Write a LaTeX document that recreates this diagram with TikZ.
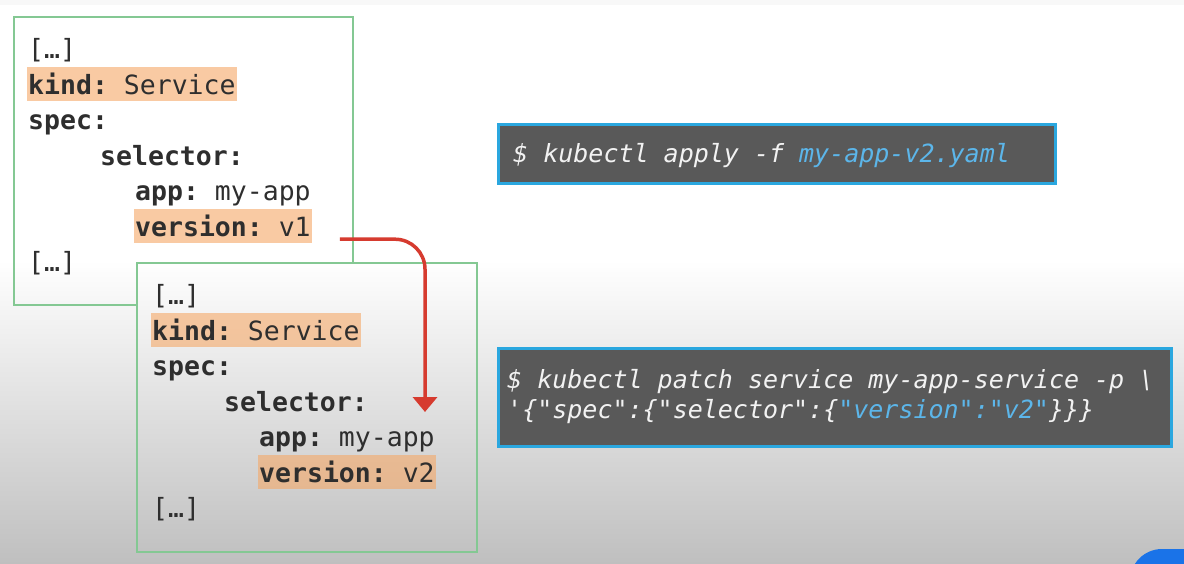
\documentclass[tikz,border=0pt]{standalone}
\usepackage{fontspec}
\setmonofont{DejaVu Sans Mono}[ItalicFont={DejaVu Sans Mono Oblique},BoldItalicFont={DejaVu Sans Mono Bold Oblique}]
\usepackage{xcolor}
\usetikzlibrary{arrows.meta}
\definecolor{boxgreen}{HTML}{84C893}
\definecolor{hlorange}{HTML}{F5A867}
\definecolor{cmdgray}{HTML}{595959}
\definecolor{cmdcyan}{HTML}{2AA7DF}
\definecolor{cmdblue}{HTML}{5CB6EA}
\definecolor{arrowred}{HTML}{D63B2F}
\definecolor{ytblue}{HTML}{1A73E8}
\definecolor{topband}{HTML}{F8F8F8}

\tikzset{
  yaml/.style={anchor=base west, inner sep=0pt, text=black!82, font=\ttfamily\fontsize{26.5}{32}\selectfont},
  hl/.style={yaml, fill=hlorange, fill opacity=0.6, text opacity=1, inner xsep=1pt, text height=27pt, text depth=7pt},
  yamlframe/.style={draw=boxgreen, line width=1.6pt},
  cmdbox/.style={draw=cmdcyan, line width=3pt, fill=cmdgray, anchor=north west, inner sep=0pt},
  cmd/.style={anchor=base west, inner sep=0pt, text=white!95!black, font=\ttfamily\itshape\fontsize{25}{30}\selectfont},
  patch/.style={draw=arrowred, line width=3.5pt, rounded corners=30pt, -{Triangle[width=24pt,length=15pt]}}
}

\begin{document}
\begin{tikzpicture}[x=1pt,y=-1pt]
            \useasboundingbox (0,0) rectangle (1184,563);
            % background
            \fill[white] (0,0) rectangle (1184,563);
            \shade[top color=white, bottom color=black!25] (0,260) rectangle (1184,563);
            \fill[topband] (0,0) rectangle (1184,5);
            \begin{scope}
              \clip (0,0) rectangle (1184,563);
              \fill[ytblue, rounded corners=32pt] (1130,549) rectangle (1330,660);
            \end{scope}

            % old service (v1)
            \draw[yamlframe] (137,305) -- (14,305) -- (14,17) -- (353,17) -- (353,263);
            \node[yaml] (dotsA1) at (28,58.5) {[…]};
            \node[hl] (kind1) at (27,94) {\textbf{kind:} Service};
            \node[yaml] (spec1) at (28,129.5) {\textbf{spec:}};
            \node[yaml] (sel1) at (100,165) {\textbf{selector:}};
            \node[yaml] (app1) at (135,200.5) {\textbf{app:} my-app};
            \node[hl] (ver1) at (134,236) {\textbf{version:} v1};
            \node[yaml] (dotsB1) at (28,271.5) {[…]};

            % patched service (v2)
            \draw[yamlframe] (137,263) rectangle (477,552);
            \node[yaml] (dotsA2) at (152,304.5) {[…]};
            \node[hl] (kind2) at (151,340) {\textbf{kind:} Service};
            \node[yaml] (spec2) at (152,375.5) {\textbf{spec:}};
            \node[yaml] (sel2) at (224,411) {\textbf{selector:}};
            \node[yaml] (app2) at (259,446.5) {\textbf{app:} my-app};
            \node[hl] (ver2) at (258,482) {\textbf{version:} v2};
            \node[yaml] (dotsB2) at (152,517.5) {[…]};

            % commands
            \node[cmdbox, minimum width=557pt, minimum height=59pt] (applybox) at (497,123) {};
            \node[cmd] (apply) at (513,162) {\$ kubectl apply -f \textcolor{cmdblue}{my-app-v2.yaml}};
            \node[cmdbox, minimum width=673pt, minimum height=98pt] (patchbox) at (497,347) {};
            \node[cmd] (patchA) at (507,388) {\$ kubectl patch service my-app-service -p \textbackslash};
            \node[cmd] (patchB) at (507,418) {'\{"spec":\{"selector":\{\textcolor{cmdblue}{"version":"v2"}\}\}\}};

            % v1 -> v2
            \coordinate (tip) at (425,412);
            \draw[patch] ([xshift=28pt,yshift=4pt]ver1.south east) -| (tip);
        \end{tikzpicture}
\end{document}
